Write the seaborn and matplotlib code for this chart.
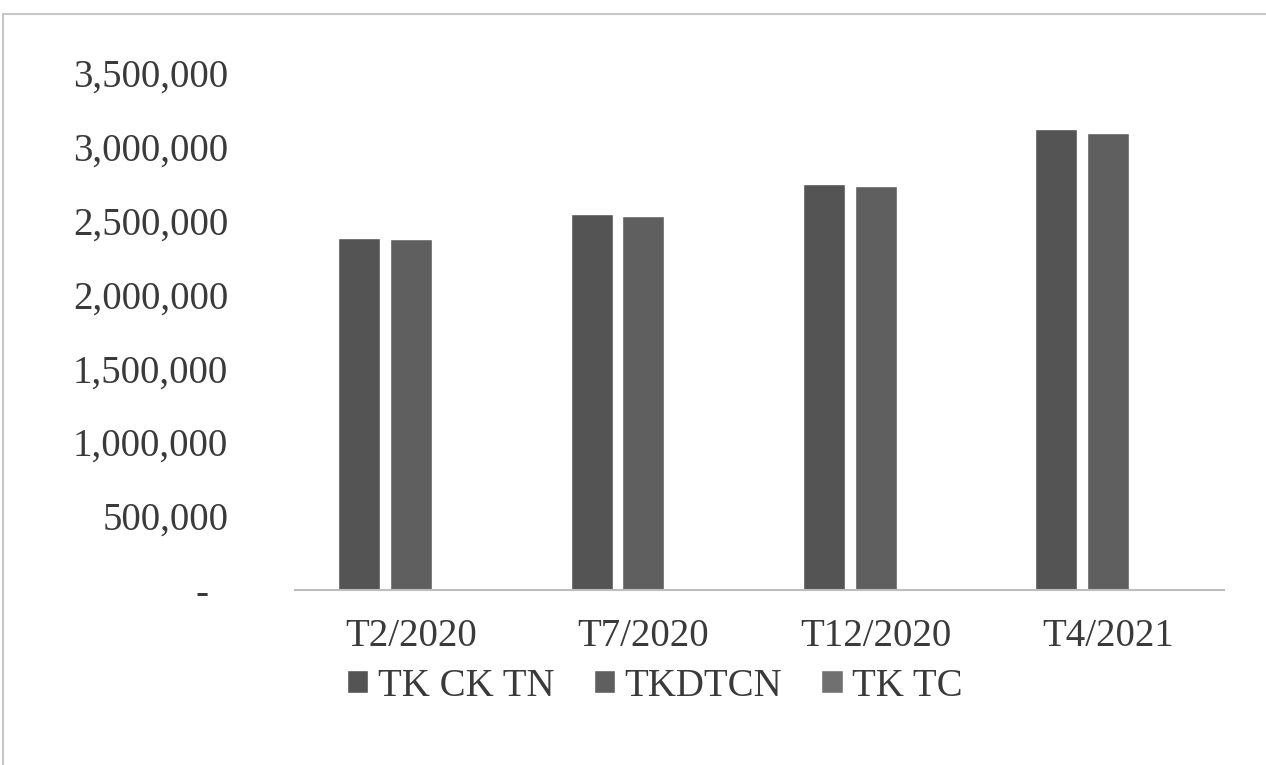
import pandas as pd
import seaborn as sns
import matplotlib.pyplot as plt
from matplotlib.patches import Rectangle
from matplotlib.ticker import FuncFormatter

periods = ["T2/2020", "T7/2020", "T12/2020", "T4/2021"]
series = ["TK CK TN", "TKDTCN", "TK TC"]
tk_ck_tn = [2380000, 2543000, 2745000, 3117000]
tkdtcn = [2372000, 2532000, 2736000, 3095000]
tk_tc = [0, 0, 0, 0]

df = pd.DataFrame({
    "period": periods * 3,
    "series": [series[0]] * 4 + [series[1]] * 4 + [series[2]] * 4,
    "value": tk_ck_tn + tkdtcn + tk_tc,
})

sns.set_style("white")
plt.rcParams["font.family"] = ["Liberation Serif", "DejaVu Serif"]

fig = plt.figure(figsize=(12.66, 7.65), dpi=100)
ax = fig.add_axes([0.233, 0.229, 0.734, 0.676])

colors = ["#545454", "#5f5f5f", "#707070"]
sns.barplot(data=df, x="period", y="value", hue="series", order=periods,
            hue_order=series, palette=colors, width=0.67, gap=0.19,
            saturation=1, ax=ax, legend=False)

ax.set_ylim(0, 3500000)
ax.set_yticks(range(0, 3500001, 500000))
# Excel accounting style: zero shown as a dash
ax.yaxis.set_major_formatter(FuncFormatter(lambda v, p: "-  " if v == 0 else f"{int(v):,}"))
ax.tick_params(axis="y", labelsize=28, colors="#3a3a3a", length=0, pad=48)
ax.tick_params(axis="x", labelsize=28, colors="#3a3a3a", length=0, pad=20)
for s in ["top", "right", "left"]:
    ax.spines[s].set_visible(False)
ax.spines["bottom"].set_color("#bdbdbd")
ax.spines["bottom"].set_linewidth(1.5)
ax.set_xlabel("")
ax.set_ylabel("")

handles = [Rectangle((0, 0), 1, 1, facecolor=c) for c in colors]
fig.legend(handles, series, loc="center", bbox_to_anchor=(655 / 1266, 1 - 686 / 765),
           ncol=3, frameon=False, fontsize=28, handlelength=0.55, handleheight=0.55,
           handletextpad=0.25, columnspacing=1.0, labelcolor="#3a3a3a")

fig.patches.append(Rectangle((3 / 1266, -0.05), 1.0, 1.05 - 14 / 765, transform=fig.transFigure,
                             fill=False, edgecolor="#c8c8c8", linewidth=1.5))

fig.savefig("out.png", dpi=100)
